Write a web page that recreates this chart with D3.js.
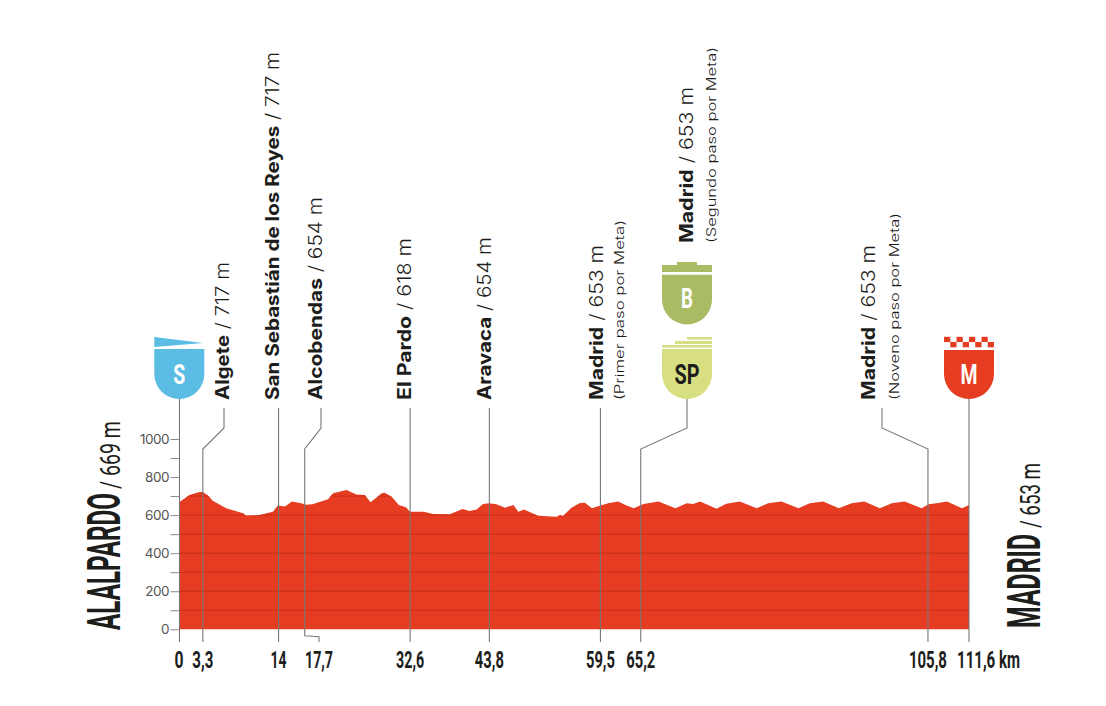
<!DOCTYPE html>
<html><head><meta charset="utf-8">
<script src="https://cdn.jsdelivr.net/npm/d3@7"></script>
<style>html,body{margin:0;padding:0;background:#fff}svg{display:block}</style>
</head><body><svg id="c" width="1106" height="706"></svg>
<script>
// ---- data ----
const profileKm = [0,1.4,2.8,3.3,4,4.7,6.6,9,9.4,11.3,13.2,13.9,14.9,15.9,17.2,17.9,18.8,21,21.7,23.6,25,26.2,27,28.6,29,30,31,32,32.6,34.5,35.9,38.2,40,41,42,42.9,43.8,44.8,46,47.2,47.9,48.7,50.7,53.3,53.8,54.2,55.4,56.6,57.3,58.3,59.5,60.6,62,63.2,64.2,65.6,67.7,70.1,71.7,72.6,73.6,75.9,77.3,79.2,81.6,83.2,85.1,87.5,89.1,91,93.2,95,96.8,99,100.7,102.5,104.9,105.9,107,108.5,110.6,111.6];
const profileElev = [669,706,722,722,705,675,636,610,598,600,618,650,645,672,662,655,657,683,715,732,709,706,667,715,718,697,653,641,618,618,606,604,632,622,630,658,662,657,639,653,618,629,597,592,600,595,639,664,665,636,651,662,671,651,636,658,671,636,662,658,671,634,660,671,636,662,671,636,662,671,636,662,671,636,662,671,636,657,662,671,636,653];
const elevTicks = [0,100,200,300,400,500,600,700,800,900,1000];
const elevLabels = [0,200,400,600,800,1000];
const kmTicks = [0,3.3,14,17.7,32.6,43.8,59.5,65.2,105.8,111.6];
const kmLabels = ["0","3,3","14","17,7","32,6","43,8","59,5","65,2","105,8","111,6 km"];
const placeNames = ["Algete","San Sebastián de los Reyes","Alcobendas","El Pardo","Aravaca","Madrid","Madrid","Madrid"];
const placeAlts = ["717 m","717 m","654 m","618 m","654 m","653 m","653 m","653 m"];
const placeNotes = ["","","","","","(Primer paso por Meta)","(Segundo paso por Meta)","(Noveno paso por Meta)"];
const startName = "ALALPARDO", startAlt = "669 m", endName = "MADRID", endAlt = "653 m";

// ---- scales ----
const x = d3.scaleLinear().domain([0,111.6]).range([179.5,969]);
const y = d3.scaleLinear().domain([0,1000]).range([629.3,439]);
const svg = d3.select("#c");
const GREY = "#777", INK = "#1d1d1b", RED = "#e63c22";
const SANS = "Inter, Roboto, sans-serif", COND = "'Liberation Sans Narrow', Roboto, sans-serif";
const profile = profileKm.map((k,i)=>[k,profileElev[i]]);

// ---- profile + grid ----
const area = d3.area().x(d=>x(d[0])).y0(y(0)).y1(d=>y(d[1]));
svg.append("clipPath").attr("id","pc").append("path").attr("d",area(profile));
svg.append("path").attr("d",area(profile)).attr("fill",RED);
svg.append("g").attr("clip-path","url(#pc)").selectAll("line").data(elevTicks.slice(1)).join("line")
  .attr("x1",x(0)).attr("x2",x(111.6)).attr("y1",d=>y(d)).attr("y2",d=>y(d))
  .attr("stroke","#c22d17").attr("stroke-width",.9);

// ---- elevation axis ----
const ax = svg.append("g").attr("transform",`translate(${x(0)},0)`)
  .call(d3.axisLeft(y).tickValues(elevTicks).tickSize(9).tickPadding(2)
    .tickFormat(d=>elevLabels.includes(d)?d:""));
ax.select(".domain").remove();
ax.selectAll(".tick line").attr("stroke","#8a8a8a");
ax.selectAll(".tick text").attr("fill","#555").attr("font-family",SANS).attr("font-size",13.5).attr("letter-spacing",-.5);
ax.selectAll(".tick text").attr("x",-10.5);

// ---- leader lines: vertical markers and the elbowed ones ----
const line = d3.line();
const leaderY = {top:408, knee:428, drop:449, foot:642};
const leaders = [
 [[x(0),398],[x(0),leaderY.foot]],
 [[224,leaderY.top],[224,leaderY.knee],[x(3.3),leaderY.drop],[x(3.3),leaderY.foot]],
 [[x(14),408],[x(14),leaderY.foot]],
 [[321,leaderY.top],[321,leaderY.knee],[x(17.7),leaderY.drop],[x(17.7),635.7],[319,636.7],[319,leaderY.foot]],
 [[x(32.6),408],[x(32.6),leaderY.foot]],
 [[x(43.8),408],[x(43.8),leaderY.foot]],
 [[x(59.5),408],[x(59.5),leaderY.foot]],
 [[687,399],[687,leaderY.knee],[x(65.2),leaderY.drop],[x(65.2),leaderY.foot]],
 [[882,leaderY.top],[882,leaderY.knee],[x(105.8),leaderY.drop],[x(105.8),leaderY.foot]],
 [[x(111.6),399],[x(111.6),leaderY.foot]]
];
svg.append("g").selectAll("path").data(leaders).join("path").attr("d",d=>line(d))
  .attr("fill","none").attr("stroke",GREY).attr("stroke-width",1.1);

// ---- km labels ----
const kmLabelX = [x(0)-.5,x(3.3),x(14),319,x(32.6),x(43.8),x(59.5),x(65.2),x(105.8)];
const kmWidths = [9,21,16,28,28,29,29,29,38];
const kmG = svg.append("g");
kmTicks.slice(0,9).forEach((k,i)=>{
  kmG.append("text").attr("x",kmLabelX[i]).attr("y",668).attr("text-anchor","middle")
   .attr("font-family",COND).attr("font-weight",700).attr("font-size",23).attr("fill",INK)
   .attr("textLength",kmWidths[i]).attr("lengthAdjust","spacingAndGlyphs").text(kmLabels[i]);
});
kmG.append("text").attr("x",957).attr("y",668).attr("font-family",COND).attr("font-weight",700)
  .attr("font-size",23).attr("fill",INK).attr("textLength",63).attr("lengthAdjust","spacingAndGlyphs").text(kmLabels[9]);

// ---- rotated place labels ----
const layout = [
 {bx:229,by:400,len:138},{bx:279,by:400,len:348},{bx:322,by:400,len:203},{bx:411,by:400,len:162},
 {bx:491,by:400,len:163},{bx:603,by:400,len:155,nx:624,nlen:180},{bx:693,by:243,len:156,nx:716,nlen:196},
 {bx:875,by:400,len:155,nx:899,nlen:187}
];
placeNames.forEach((n,i)=>{
  const L = layout[i];
  const t = svg.append("text").attr("transform",`translate(${L.bx},${L.by}) rotate(-90)`)
   .attr("font-family",SANS).attr("font-size",18.5).attr("fill",INK)
   .attr("textLength",L.len).attr("lengthAdjust","spacingAndGlyphs");
  t.append("tspan").attr("font-weight",700).text(n);
  t.append("tspan").attr("font-weight",300).text(" / "+placeAlts[i]);
  if(placeNotes[i]) svg.append("text").attr("transform",`translate(${L.nx},${L.by}) rotate(-90)`)
   .attr("font-family",SANS).attr("font-size",12.5).attr("font-weight",300).attr("fill",INK)
   .attr("textLength",L.nlen).attr("lengthAdjust","spacingAndGlyphs").text(placeNotes[i]);
});

// ---- start / finish names ----
function bigLabel(bx,by,name,len,alt,altGap,altLen){
  svg.append("text").attr("transform",`translate(${bx},${by}) rotate(-90)`)
   .attr("font-family",COND).attr("font-weight",700).attr("font-size",46).attr("fill",INK)
   .attr("textLength",len).attr("lengthAdjust","spacingAndGlyphs").text(name);
  svg.append("text").attr("transform",`translate(${bx},${by-altGap}) rotate(-90)`)
   .attr("font-family",COND).attr("font-size",28).attr("fill",INK)
   .attr("textLength",altLen).attr("lengthAdjust","spacingAndGlyphs").text("/ "+alt);
}
bigLabel(120,630,startName,137,startAlt,141,68);
bigLabel(1040,628,endName,94,endAlt,100,65);

// ---- shields ----
function shield(cx,top,bottom,fill){
  const r=25;
  return svg.append("path").attr("fill",fill)
   .attr("d",`M${cx-r},${top}H${cx+r}V${bottom-r}A${r},${r} 0 0 1 ${cx-r},${bottom-r}Z`);
}
function shieldText(cx,by,s,fill,w){
  svg.append("text").attr("x",cx).attr("y",by).attr("text-anchor","middle").attr("font-family",COND)
   .attr("font-weight",700).attr("font-size",28).attr("fill",fill)
   .attr("textLength",w).attr("lengthAdjust","spacingAndGlyphs").text(s);
}
// start
const cS=x(0)-.2;
shield(cS,349,399,"#5bbde4");
svg.append("path").attr("fill","#5bbde4").attr("d",`M${cS-25},337L${cS+24},343L${cS-25},347Z`);
shieldText(cS,384,"S","#fff",12);
// bonus
shield(687,274.7,324.5,"#a9bb63");
svg.append("path").attr("fill","#a9bb63").attr("d","M662,265H677V262H697V265H712V272H662Z");
shieldText(687,308,"B","#fff",12);
// sprint
shield(687,349,399,"#d8df82");
[[687,337,2.5],[675,341,3],[662,345,2.5]].forEach(([x0,y0,h])=>svg.append("rect").attr("x",x0).attr("y",y0)
  .attr("width",712-x0).attr("height",h).attr("fill","#d8df82"));
shieldText(687,384,"SP",INK,25);
// finish
const cM=x(111.6);
shield(cM,350,399,RED);
d3.range(4).forEach(i=>{
  svg.append("rect").attr("x",cM-25+i*12.5).attr("y",336.8).attr("width",6.25).attr("height",5.3).attr("fill",RED);
  svg.append("rect").attr("x",cM-25+6.25+i*12.5).attr("y",342).attr("width",6.25).attr("height",5.3).attr("fill",RED);
});
shieldText(cM,384,"M","#fff",17);
</script></body></html>
